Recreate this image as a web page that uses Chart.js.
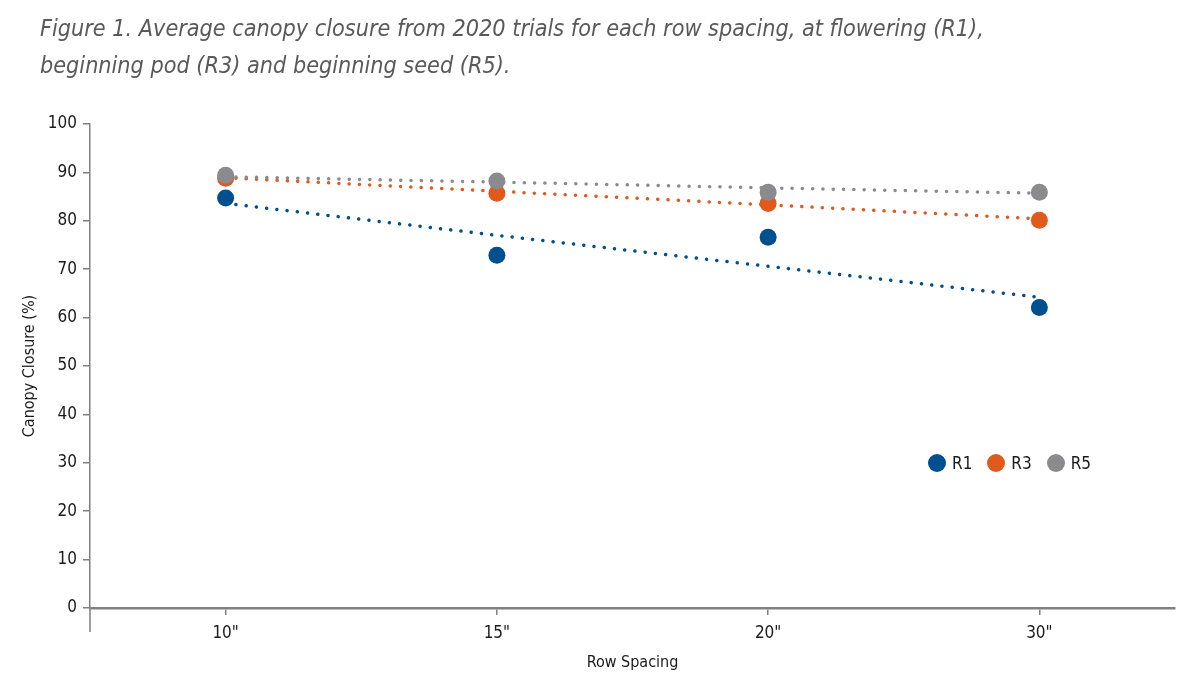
<!DOCTYPE html>
<html>
<head>
<meta charset="utf-8">
<script src="https://cdn.jsdelivr.net/npm/chart.js@4.4.1/dist/chart.umd.min.js"></script>
<style>
  html, body { margin: 0; padding: 0; background: #fff; }
  body { width: 1190px; height: 690px; position: relative; overflow: hidden; }
  #title {
    position: absolute; left: 40px; top: 9px;
    font-family: "Liberation Sans Narrow", "DejaVu Sans Condensed", "Open Sans", sans-serif;
    font-style: italic; font-size: 23.2px; line-height: 37px; color: #595959;
    white-space: nowrap;
  }
  #wrap { position: absolute; left: 0; top: 0; width: 1190px; height: 690px; }
  #legend {
    position: absolute; left: 928px; top: 453px; display: flex; gap: 15px;
    font-family: "Liberation Sans Narrow", "DejaVu Sans Condensed", "Open Sans", sans-serif;
    font-size: 17px; color: #1a1a1a;
  }
  #legend span.item { display: flex; align-items: center; gap: 6px; }
  #legend span.dot { width: 18px; height: 18px; border-radius: 50%; display: inline-block; }
</style>
</head>
<body>
<div id="wrap"><canvas id="chart" width="1190" height="690"></canvas></div>
<div id="title">Figure 1. Average canopy closure from 2020 trials for each row spacing, at flowering (R1),<br>beginning pod (R3) and beginning seed (R5).</div>
<div id="legend"></div>
<script>
(function () {
  'use strict';

  // Row spacing categories
  const rowSpacing = ['10"', '15"', '20"', '30"'];

  // Canopy closure (%)
  const r1Values = [84.7, 72.9, 76.6, 62.1];
  const r3Values = [88.8, 85.7, 83.6, 80.1];
  const r5Values = [89.4, 88.2, 85.9, 85.9];

  // Dotted trend lines
  const r1Trend = [83.6, 77.0, 70.6, 64.2];
  const r3Trend = [88.9, 86.1, 83.3, 80.4];
  const r5Trend = [89.1, 88.0, 86.8, 85.7];

  const yTicks = [0, 10, 20, 30, 40, 50, 60, 70, 80, 90, 100];

  const seriesNames = ['R1', 'R3', 'R5'];
  const seriesColors = ['#004f8f', '#e05a1e', '#8b8b8f'];

  const fontFamily = '"Liberation Sans Narrow", "DejaVu Sans Condensed", "Open Sans", sans-serif';
  const axisColor = '#808080';

  function pointSet(label, data, color, order) {
    return {
      label: label,
      data: data,
      showLine: false,
      pointStyle: 'circle',
      pointRadius: 8.5,
      pointHoverRadius: 8.5,
      pointBackgroundColor: color,
      pointBorderColor: color,
      pointBorderWidth: 0,
      borderColor: color,
      backgroundColor: color,
      order: order
    };
  }

  function trendSet(label, data, color, order) {
    return {
      label: label,
      data: data,
      borderColor: color,
      borderWidth: 3.5,
      borderDash: [0.1, 10.2],
      borderCapStyle: 'round',
      pointRadius: 0,
      pointHoverRadius: 0,
      fill: false,
      tension: 0,
      order: order
    };
  }

  // Y axis runs on a little below the x axis, as in the figure
  const axisTail = {
    id: 'axisTail',
    afterDraw: function (chart) {
      const ctx = chart.ctx;
      const area = chart.chartArea;
      ctx.save();
      ctx.strokeStyle = axisColor;
      ctx.lineWidth = 1.5;
      ctx.beginPath();
      ctx.moveTo(area.left, area.bottom);
      ctx.lineTo(area.left, area.bottom + 24);
      ctx.stroke();
      ctx.restore();
    }
  };

  new Chart(document.getElementById('chart'), {
    type: 'line',
    data: {
      labels: rowSpacing,
      datasets: [
        pointSet(seriesNames[2], r5Values, seriesColors[2], 1),
        pointSet(seriesNames[1], r3Values, seriesColors[1], 2),
        pointSet(seriesNames[0], r1Values, seriesColors[0], 3),
        trendSet('R5 trend', r5Trend, seriesColors[2], 4),
        trendSet('R3 trend', r3Trend, seriesColors[1], 5),
        trendSet('R1 trend', r1Trend, seriesColors[0], 6)
      ]
    },
    options: {
      responsive: false,
      animation: false,
      layout: { padding: { top: 124, left: 20, right: 15, bottom: 0 } },
      plugins: {
        legend: { display: false },
        title: { display: false },
        tooltip: { enabled: false }
      },
      scales: {
        x: {
          type: 'category',
          offset: true,
          grid: { drawOnChartArea: false, drawTicks: true, tickLength: 7, color: axisColor, lineWidth: 1.5 },
          border: { color: axisColor, width: 2.5 },
          ticks: { color: '#1a1a1a', font: { family: fontFamily, size: 17 }, padding: 8 },
          title: {
            display: true, text: 'Row Spacing', color: '#1a1a1a',
            font: { family: fontFamily, size: 16 }, padding: { top: 4, bottom: 18 }
          },
          afterFit: function (s) { s.height = 82; }
        },
        y: {
          min: 0,
          max: 100,
          afterBuildTicks: function (s) { s.ticks = yTicks.map(function (v) { return { value: v }; }); },
          grid: { drawOnChartArea: false, drawTicks: true, tickLength: 7, color: axisColor, lineWidth: 1.5 },
          border: { color: axisColor, width: 1.5 },
          ticks: { color: '#1a1a1a', font: { family: fontFamily, size: 17 }, padding: 6 },
          title: {
            display: true, text: 'Canopy Closure (%)', color: '#1a1a1a',
            font: { family: fontFamily, size: 16 }, padding: { top: 0, bottom: 0 }
          },
          afterFit: function (s) { s.width = 70; }
        }
      }
    },
    plugins: [axisTail]
  });

  // Legend for the point series only
  const legend = document.getElementById('legend');
  seriesNames.forEach(function (name, i) {
    const item = document.createElement('span');
    item.className = 'item';
    const dot = document.createElement('span');
    dot.className = 'dot';
    dot.style.background = seriesColors[i];
    item.appendChild(dot);
    item.appendChild(document.createTextNode(name));
    legend.appendChild(item);
  });
})();
</script>
</body>
</html>
